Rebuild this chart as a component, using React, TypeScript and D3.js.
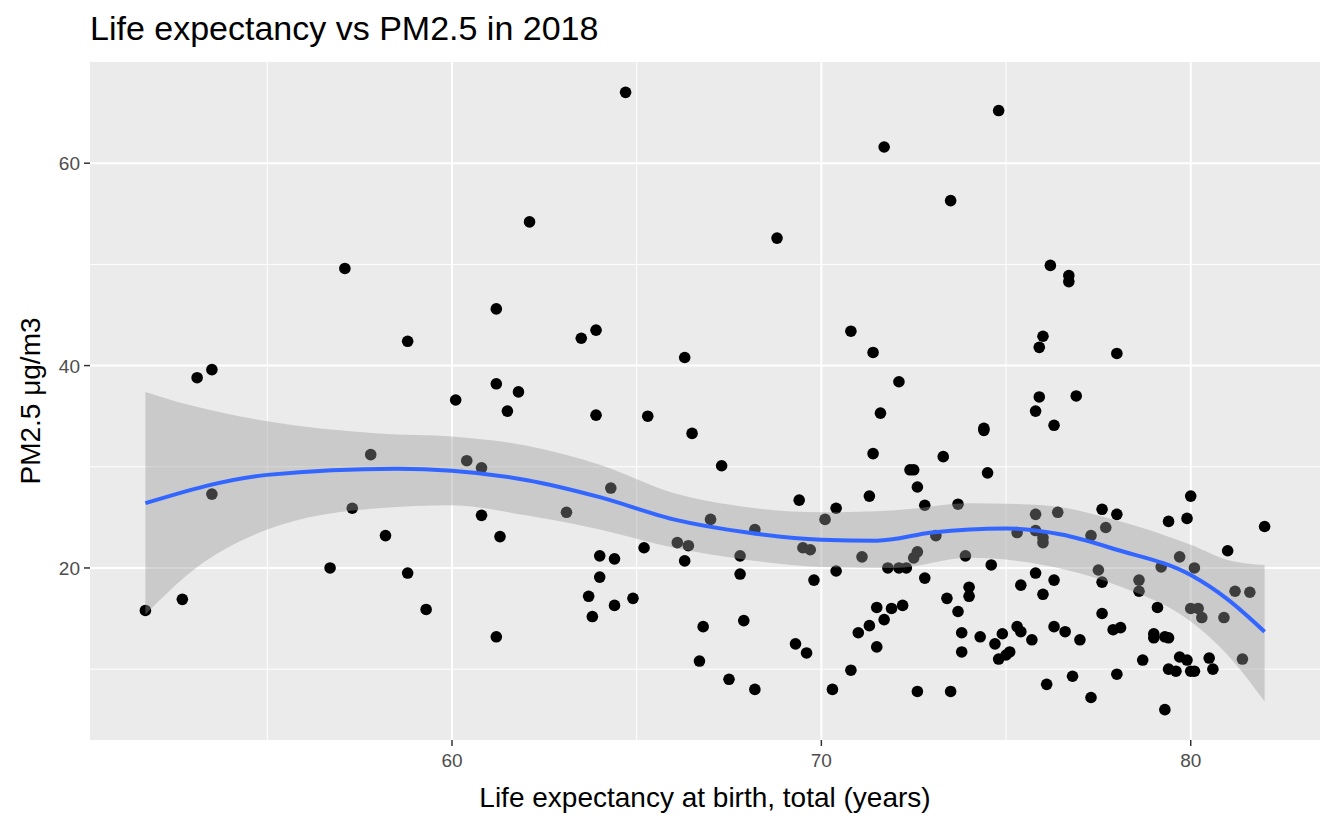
import React from 'react';
import * as d3 from 'd3';

const lifeExp = [
  51.7, 52.7, 53.1, 53.5, 53.5, 57.1, 57.3, 57.8, 56.7, 58.2, 58.8, 58.8, 59.3, 60.1, 60.4, 60.8, 60.8, 61.2, 61.2, 61.3,
  61.2, 61.5, 61.8, 62.1, 63.1, 63.5, 63.7, 63.8, 63.9, 63.9, 64.0, 64.0, 64.3, 64.4, 64.4, 64.7, 64.9, 65.2, 65.3, 66.1,
  66.3, 66.3, 66.4, 66.5, 66.7, 66.8, 67.0, 67.3, 67.5, 67.8, 67.8, 67.9, 68.2, 68.2, 68.8, 69.3, 69.4, 69.5, 69.6, 69.7,
  69.8, 70.1, 70.3, 70.4, 70.4, 70.8, 70.8, 71.0, 71.1, 71.3, 71.3, 71.4, 71.4, 71.5, 71.5, 71.6, 71.7, 71.7, 71.8, 71.9,
  72.1, 72.3, 72.1, 72.2, 72.4, 72.5, 72.5, 72.6, 72.6, 72.6, 72.8, 72.8, 73.1, 73.3, 73.4, 73.5, 73.5, 73.7, 73.7, 73.8,
  73.8, 73.9, 74.0, 74.0, 74.3, 74.4, 74.4, 74.5, 74.6, 74.7, 74.8, 74.8, 74.9, 75.0, 75.1, 75.3, 75.3, 75.4, 75.4, 75.7,
  75.8, 75.8, 75.8, 75.8, 75.9, 75.9, 76.0, 76.0, 76.0, 76.0, 76.1, 76.2, 76.3, 76.3, 76.3, 76.4, 76.6, 76.7, 76.7, 76.8,
  76.9, 77.0, 77.3, 77.3, 77.5, 77.6, 77.6, 77.6, 77.7, 77.9, 78.0, 78.0, 78.0, 78.1, 78.6, 78.6, 78.7, 79.0, 79.0, 79.1,
  79.2, 79.3, 79.3, 79.4, 79.4, 79.4, 79.6, 79.7, 79.7, 79.9, 79.9, 80.0, 80.0, 80.0, 80.1, 80.1, 80.2, 80.3, 80.5, 80.6,
  80.9, 81.0, 81.2, 81.4, 81.6, 82.0,
];
const pm25 = [
  15.8, 16.9, 38.8, 39.6, 27.3, 49.6, 25.9, 31.2, 20.0, 23.2, 19.5, 42.4, 15.9, 36.6, 30.6, 29.9, 25.2, 45.6, 38.2, 23.1,
  13.2, 35.5, 37.4, 54.2, 25.5, 42.7, 17.2, 15.2, 43.5, 35.1, 21.2, 19.1, 27.9, 20.9, 16.3, 67.0, 17.0, 22.0, 35.0, 22.5,
  40.8, 20.7, 22.2, 33.3, 10.8, 14.2, 24.8, 30.1, 9.0, 21.2, 19.4, 14.8, 8.0, 23.8, 52.6, 12.5, 26.7, 22.0, 11.6, 21.8,
  18.8, 24.8, 8.0, 25.9, 19.7, 9.9, 43.4, 13.6, 21.1, 27.1, 14.3, 41.3, 31.3, 12.2, 16.1, 35.3, 61.6, 14.9, 20.0, 16.0,
  20.0, 20.0, 38.4, 16.3, 29.7, 29.7, 21.0, 21.6, 7.8, 28.0, 19.0, 26.2, 23.2, 31.0, 17.0, 7.8, 56.3, 15.7, 26.3, 13.6,
  11.7, 21.2, 18.1, 17.2, 13.2, 33.6, 33.8, 29.4, 20.3, 12.5, 65.2, 11.0, 13.5, 11.4, 11.7, 23.5, 14.2, 13.7, 18.3, 12.9,
  35.5, 19.5, 25.3, 23.7, 36.9, 41.8, 22.5, 23.0, 17.4, 42.9, 8.5, 49.9, 14.2, 34.1, 18.8, 25.5, 13.7, 48.9, 48.3, 9.3,
  37.0, 12.9, 23.2, 7.2, 19.8, 25.8, 18.6, 15.5, 24.0, 13.9, 9.5, 41.2, 25.3, 14.1, 17.7, 18.8, 10.9, 13.5, 13.1, 16.1,
  20.1, 13.2, 6.0, 13.1, 24.6, 10.0, 9.8, 21.1, 11.2, 24.9, 10.9, 9.8, 27.1, 16.0, 9.8, 20.0, 16.0, 15.1, 11.1, 10.0,
  15.1, 21.7, 17.7, 11.0, 17.6, 24.1,
];

// smoothed curve and 95% band
const fitX = [51.7, 55, 58.5, 60, 62, 64, 66, 68, 70, 71.5, 73, 75, 76.5, 78, 80, 81, 82];
const fitY = [26.4, 29.2, 29.8, 29.6, 28.7, 27.0, 24.8, 23.5, 22.8, 22.7, 23.5, 23.9, 23.3, 21.8, 19.3, 16.9, 13.7];
const bandX = [51.7, 53, 55, 58, 60, 62, 64, 66, 68, 70, 72, 74, 76, 78, 80, 81, 82];
const bandHi = [37.4, 36.0, 34.5, 33.3, 33.0, 32.1, 30.2, 27.4, 26.0, 25.5, 25.7, 26.4, 26.2, 24.7, 22.3, 20.8, 20.3];
const bandLo = [15.4, 19.8, 23.8, 25.9, 26.2, 25.2, 23.8, 22.0, 20.8, 20.1, 20.0, 21.0, 20.3, 18.3, 14.7, 11.4, 6.8];

const xMajor = [60, 70, 80];
const xMinor = [55, 65, 75];
const yMajor = [20, 40, 60];
const yMinor = [10, 30, 50];

const W = 1336;
const H = 825;
const margin = { top: 62, right: 16, bottom: 85, left: 90 };

const App: React.FC = () => {
  const x = d3.scaleLinear().domain([50.2, 83.5]).range([margin.left, W - margin.right]);
  const y = d3.scaleLinear().domain([3.0, 70.0]).range([H - margin.bottom, margin.top]);

  const band = d3
    .area<number>()
    .x((d, i) => x(bandX[i]))
    .y0((d, i) => y(bandLo[i]))
    .y1((d) => y(d))
    .curve(d3.curveMonotoneX);
  const line = d3
    .line<number>()
    .x((d, i) => x(fitX[i]))
    .y((d) => y(d))
    .curve(d3.curveMonotoneX);

  const pTop = margin.top;
  const pBot = H - margin.bottom;
  const pLeft = margin.left;
  const pRight = W - margin.right;

  return (
    <svg width={W} height={H} style={{ position: 'absolute', left: 0, top: 0 }} fontFamily="Liberation Sans, Arial, sans-serif">
      <rect x={pLeft} y={pTop} width={pRight - pLeft} height={pBot - pTop} fill="#ebebeb" />
      {xMinor.map((v) => (
        <line key={'xm' + v} x1={x(v)} x2={x(v)} y1={pTop} y2={pBot} stroke="#fff" strokeWidth={1} />
      ))}
      {yMinor.map((v) => (
        <line key={'ym' + v} x1={pLeft} x2={pRight} y1={y(v)} y2={y(v)} stroke="#fff" strokeWidth={1} />
      ))}
      {xMajor.map((v) => (
        <line key={'xM' + v} x1={x(v)} x2={x(v)} y1={pTop} y2={pBot} stroke="#fff" strokeWidth={2} />
      ))}
      {yMajor.map((v) => (
        <line key={'yM' + v} x1={pLeft} x2={pRight} y1={y(v)} y2={y(v)} stroke="#fff" strokeWidth={2} />
      ))}
      {lifeExp.map((v, i) => (
        <circle key={i} cx={x(v)} cy={y(pm25[i])} r={5.8} fill="#000" />
      ))}
      <path d={band(bandHi) || ''} fill="#999999" fillOpacity={0.4} />
      <path d={line(fitY) || ''} fill="none" stroke="#3366FF" strokeWidth={4} />
      {xMajor.map((v) => (
        <g key={'xt' + v}>
          <line x1={x(v)} x2={x(v)} y1={pBot} y2={pBot + 6} stroke="#333" strokeWidth={1.5} />
          <text x={x(v)} y={pBot + 27} textAnchor="middle" fontSize={19} fill="#4d4d4d">{v}</text>
        </g>
      ))}
      {yMajor.map((v) => (
        <g key={'yt' + v}>
          <line x1={pLeft - 6} x2={pLeft} y1={y(v)} y2={y(v)} stroke="#333" strokeWidth={1.5} />
          <text x={pLeft - 10} y={y(v) + 7} textAnchor="end" fontSize={19} fill="#4d4d4d">{v}</text>
        </g>
      ))}
      <text x={(pLeft + pRight) / 2} y={807} textAnchor="middle" fontSize={28} fill="#000">
        Life expectancy at birth, total (years)
      </text>
      <text transform={`translate(40, ${(pTop + pBot) / 2}) rotate(-90)`} textAnchor="middle" fontSize={28} fill="#000">
        PM2.5 μg/m3
      </text>
      <text x={pLeft} y={40} fontSize={34} fill="#000">Life expectancy vs PM2.5 in 2018</text>
    </svg>
  );
};

export default App;
